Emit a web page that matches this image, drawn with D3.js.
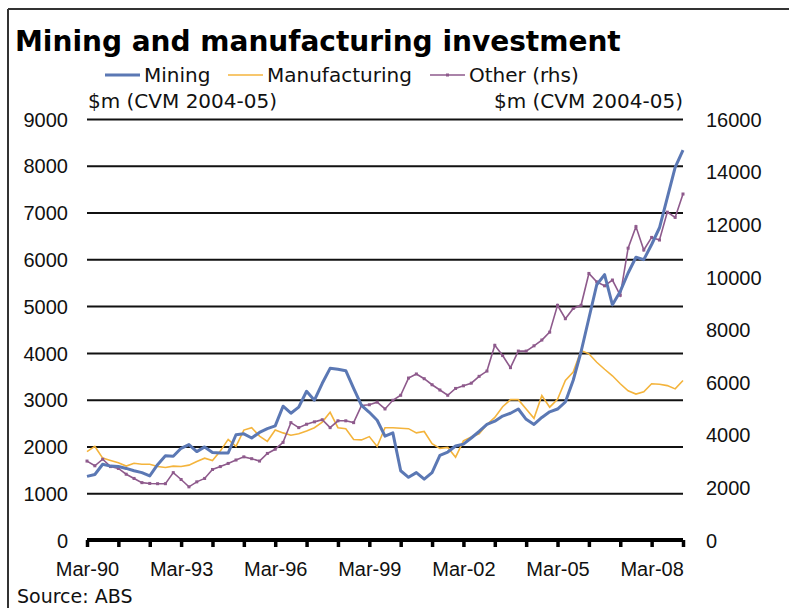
<!DOCTYPE html>
<html>
<head>
<meta charset="utf-8">
<script src="https://cdn.jsdelivr.net/npm/d3@7"></script>
<style>
  body { margin: 0; background: #fff; }
  svg { display: block; font-family: "DejaVu Sans", Verdana, sans-serif; }
  .tick-label { font-size: 20px; fill: #111; }
  .title { font-size: 28px; font-weight: bold; fill: #000; }
</style>
</head>
<body>
<svg id="chart" width="789" height="608"></svg>
<script>
const width = 789;
const height = 608;

// quarterly categories, Mar-90 .. Mar-09
const months = ["Mar", "Jun", "Sep", "Dec"];
let quarters = [];
for (let y = 1990; y <= 2009; y++) {
  for (let m = 0; m < 4; m++) {
    if (y === 2009 && m > 0) break;
    quarters.push(months[m] + "-" + String(y).slice(2));
  }
}

const tickLabels = ["Mar-90", "Mar-93", "Mar-96", "Mar-99", "Mar-02", "Mar-05", "Mar-08"];
const leftTicks = [0, 1000, 2000, 3000, 4000, 5000, 6000, 7000, 8000, 9000];
const rightTicks = [0, 2000, 4000, 6000, 8000, 10000, 12000, 14000, 16000];

const mining = [1360, 1400, 1620, 1580, 1570, 1530, 1480, 1440, 1370, 1610,
  1800, 1790, 1960, 2040, 1890, 1990, 1870, 1860, 1860, 2250,
  2270, 2180, 2300, 2380, 2440, 2860, 2710, 2840, 3180, 2990,
  3350, 3670, 3650, 3620, 3240, 2880, 2730, 2560, 2220, 2290,
  1480, 1340, 1440, 1300, 1440, 1810, 1880, 2010, 2050, 2180,
  2320, 2470, 2540, 2650, 2710, 2800, 2580, 2470, 2620, 2740,
  2800, 2950, 3415, 4024, 4741, 5457, 5672, 5027, 5314, 5708,
  6044, 5994, 6317, 6675, 7320, 7964, 8337];

const manufacturing = [1890, 2000, 1750, 1700, 1650, 1580, 1640, 1620, 1620, 1570,
  1550, 1580, 1570, 1600, 1680, 1750, 1700, 1900, 2150, 2000,
  2350, 2400, 2220, 2110, 2350, 2290, 2240, 2270, 2330, 2400,
  2520, 2730, 2400, 2380, 2150, 2140, 2210, 2000, 2400, 2400,
  2390, 2380, 2290, 2320, 2060, 1960, 1980, 1770, 2120, 2200,
  2270, 2470, 2620, 2850, 3000, 3000, 2800, 2600, 3090, 2840,
  3010, 3410, 3590, 4050, 3980, 3800, 3650, 3510, 3340, 3190,
  3120, 3170, 3340, 3330, 3300, 3230, 3410];

const other = [3000, 2820, 3070, 2790, 2720, 2500, 2340, 2180, 2150, 2140,
  2140, 2560, 2300, 2020, 2210, 2340, 2680, 2790, 2910, 3040,
  3160, 3090, 3000, 3290, 3450, 3710, 4460, 4270, 4400, 4490,
  4570, 4270, 4530, 4530, 4460, 5110, 5140, 5240, 4980, 5310,
  5500, 6155, 6310, 6130, 5900, 5700, 5500, 5760, 5860, 5960,
  6220, 6420, 7400, 7010, 6550, 7180, 7180, 7380, 7600, 7900,
  8920, 8410, 8800, 8920, 10130, 9810, 9660, 9880, 9300, 11090,
  11910, 11020, 11500, 11400, 12460, 12260, 13150];

const margin = {top: 119, bottom: 68, left: 87, right: 106};

const svg = d3.select("svg#chart");

/* FRAME */
svg.append("line").attr("x1", 8).attr("x2", width).attr("y1", 9).attr("y2", 9)
  .attr("stroke", "#333").attr("stroke-width", 2);
svg.append("line").attr("x1", 8).attr("x2", 8).attr("y1", 9).attr("y2", height)
  .attr("stroke", "#333").attr("stroke-width", 2);

/* SCALES */
const plotWidth = width - margin.left - margin.right;
const plotHeight = 421;

const plot = svg.append("g").attr("transform", translate(margin.left, margin.top));

const xScale = d3.scalePoint().domain(quarters).range([0, plotWidth]);
const yLeft = d3.scaleLinear().domain([0, 9000]).range([plotHeight, 0]);
const yRight = d3.scaleLinear().domain([0, 16000]).range([plotHeight, 0]);

/* GRID */
const grid = d3.axisLeft(yLeft).tickValues(leftTicks.slice(1)).tickSize(-plotWidth).tickFormat("");
plot.append("g").attr("class", "grid").call(grid)
  .call(g => g.select(".domain").remove())
  .call(g => g.selectAll("line").attr("stroke", "#111").attr("stroke-width", 2));

/* AXES */
const leftAxis = d3.axisLeft(yLeft).tickValues(leftTicks).tickSize(0).tickPadding(19)
  .tickFormat(d3.format("d"));
plot.append("g").call(leftAxis)
  .call(g => g.select(".domain").remove())
  .call(g => g.selectAll("text").attr("class", "tick-label").attr("dy", "0.36em"));

const rightAxis = d3.axisRight(yRight).tickValues(rightTicks).tickSize(0).tickPadding(23)
  .tickFormat(d3.format("d"));
plot.append("g").attr("transform", translate(plotWidth, 0)).call(rightAxis)
  .call(g => g.select(".domain").remove())
  .call(g => g.selectAll("text").attr("class", "tick-label").attr("dy", "0.36em"));

const tickCats = quarters.filter((q, i) => i % 4 === 0);
const xAxis = d3.axisBottom(xScale).tickValues(tickCats).tickSize(7)
  .tickFormat(d => tickLabels.includes(d) ? d : "").tickPadding(15);
const xGroup = plot.append("g").attr("transform", translate(0, plotHeight)).call(xAxis);
xGroup.select(".domain").attr("stroke", "#000").attr("stroke-width", 4)
  .attr("d", "M0,0H" + plotWidth);
xGroup.selectAll(".tick line").attr("stroke", "#000").attr("stroke-width", 3.5);
xGroup.selectAll("text").attr("class", "tick-label");

/* LINES */
const lineLeft = d3.line().x((d, i) => xScale(quarters[i])).y(d => yLeft(d));
const lineRight = d3.line().x((d, i) => xScale(quarters[i])).y(d => yRight(d));

plot.append("path").datum(manufacturing).attr("d", lineLeft)
  .attr("fill", "none").attr("stroke", "#F4B43C").attr("stroke-width", 1.6);

plot.append("path").datum(other).attr("d", lineRight)
  .attr("fill", "none").attr("stroke", "#8E5A8C").attr("stroke-width", 1.6);
plot.append("g").selectAll("rect").data(other).join("rect")
  .attr("x", (d, i) => xScale(quarters[i]) - 1.5)
  .attr("y", d => yRight(d) - 1.5)
  .attr("width", 3).attr("height", 3)
  .attr("fill", "#8E5A8C");

plot.append("path").datum(mining).attr("d", lineLeft)
  .attr("fill", "none").attr("stroke", "#5B78B4").attr("stroke-width", 3)
  .attr("stroke-linejoin", "round");

/* TITLES */
svg.append("text").attr("class", "title").attr("x", 15).attr("y", 51)
  .text("Mining and manufacturing investment");

svg.append("text").attr("class", "tick-label").attr("x", 88).attr("y", 108)
  .text("$m (CVM 2004-05)");
svg.append("text").attr("class", "tick-label").attr("x", 683).attr("y", 108)
  .attr("text-anchor", "end").text("$m (CVM 2004-05)");

svg.append("text").attr("class", "tick-label").attr("x", 17).attr("y", 603)
  .style("font-size", "19px").text("Source: ABS");

/* LEGEND */
const legendItems = [
  {name: "Mining", color: "#5B78B4", w: 3, x: 105},
  {name: "Manufacturing", color: "#F4B43C", w: 1.6, x: 228},
  {name: "Other (rhs)", color: "#8E5A8C", w: 1.6, x: 430}
];
const legend = svg.append("g").attr("transform", translate(0, 75));
legendItems.forEach(item => {
  legend.append("line").attr("x1", item.x).attr("x2", item.x + 35)
    .attr("y1", 0).attr("y2", 0)
    .attr("stroke", item.color).attr("stroke-width", item.w);
  if (item.name === "Other (rhs)") {
    legend.append("rect").attr("x", item.x + 16).attr("y", -1.5)
      .attr("width", 3).attr("height", 3).attr("fill", item.color);
  }
  legend.append("text").attr("class", "tick-label")
    .attr("x", item.x + 39).attr("y", 7).text(item.name);
});

function translate(x, y) {
  return "translate(" + String(x) + "," + String(y) + ")";
}
</script>
</body>
</html>
